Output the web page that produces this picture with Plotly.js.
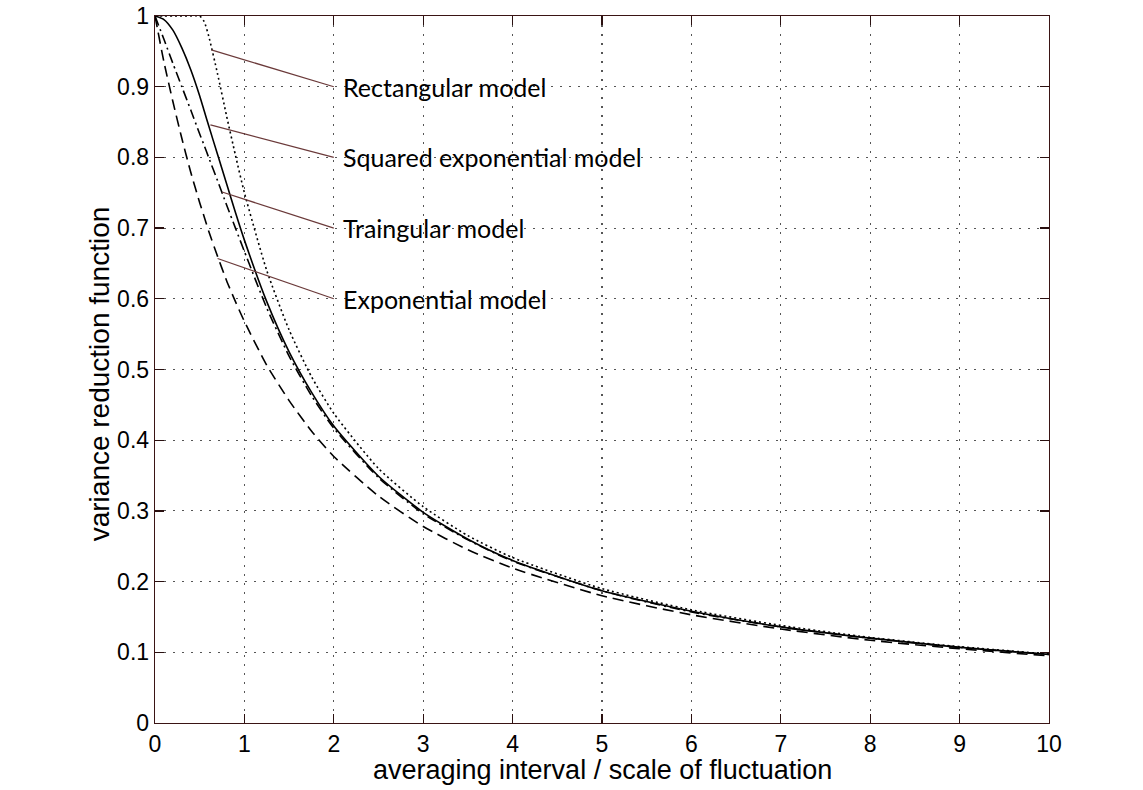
<!DOCTYPE html>
<html>
<head>
<meta charset="utf-8">
<script src="https://cdn.plot.ly/plotly-3.0.1.min.js"></script>
<style>html,body{margin:0;padding:0;background:#fff;}#chart{width:1143px;height:790px;}</style>
</head>
<body>
<div id="chart"></div>
<script>
// averaging interval / scale of fluctuation
const xVals = [0, 0.1, 0.2, 0.3, 0.4, 0.5, 0.55, 0.6, 0.7, 0.8, 0.9, 1, 1.25, 1.5, 1.75, 2, 2.5, 3, 3.5, 4, 5, 6, 7, 8, 9, 10];
// variance reduction function values
const rectangular = [1, 1, 1, 1, 1, 1, 0.992, 0.972, 0.918, 0.859, 0.803, 0.750, 0.640, 0.556, 0.490, 0.438, 0.360, 0.306, 0.265, 0.234, 0.190, 0.160, 0.138, 0.121, 0.108, 0.0975];
const squaredExp = [1, 0.995, 0.980, 0.955, 0.924, 0.887, 0.866, 0.845, 0.804, 0.763, 0.722, 0.683, 0.596, 0.525, 0.468, 0.420, 0.349, 0.298, 0.260, 0.230, 0.187, 0.158, 0.136, 0.120, 0.107, 0.097];
const triangular = [1, 0.967, 0.933, 0.900, 0.867, 0.833, 0.817, 0.800, 0.767, 0.733, 0.700, 0.667, 0.587, 0.519, 0.463, 0.417, 0.347, 0.296, 0.259, 0.229, 0.187, 0.157, 0.136, 0.120, 0.107, 0.097];
const exponential = [1, 0.935, 0.879, 0.827, 0.779, 0.736, 0.716, 0.696, 0.660, 0.626, 0.596, 0.568, 0.506, 0.456, 0.413, 0.377, 0.321, 0.278, 0.245, 0.219, 0.180, 0.153, 0.133, 0.117, 0.105, 0.095];

const labels = ["Rectangular model", "Squared exponential model", "Traingular model", "Exponential model"];
const labelY = [0.9, 0.8, 0.7, 0.6];
const leaderX = [0.63, 0.62, 0.75, 0.70];
const leaderY = [0.952, 0.846, 0.751, 0.657];
const labelAnchorX = 2.0;

const xTickVals = [0,1,2,3,4,5,6,7,8,9,10];
const xTickText = ['0','1','2','3','4','5','6','7','8','9','10'];
const yTickVals = [0,0.1,0.2,0.3,0.4,0.5,0.6,0.7,0.8,0.9,1];
const yTickText = ['0','0.1','0.2','0.3','0.4','0.5','0.6','0.7','0.8','0.9','1'];

const lineW = 1.6;
const traces = [
  {x: xVals, y: rectangular, mode: 'lines', line: {color: '#000', width: lineW, dash: '2px,3px', shape: 'spline', smoothing: 0.6}},
  {x: xVals, y: squaredExp, mode: 'lines', line: {color: '#000', width: lineW, dash: 'solid', shape: 'spline', smoothing: 0.6}},
  {x: xVals, y: triangular, mode: 'lines', line: {color: '#000', width: lineW, dash: '10px,4px,2px,4px', shape: 'spline', smoothing: 0.6}},
  {x: xVals, y: exponential, mode: 'lines', line: {color: '#000', width: lineW, dash: '11px,6px', shape: 'spline', smoothing: 0.6}}
];

const shapes = labels.map((l, i) => ({
  type: 'line', xref: 'x', yref: 'y',
  x0: leaderX[i], y0: leaderY[i], x1: labelAnchorX, y1: labelY[i],
  line: {color: '#6b3a3a', width: 1.2}
}));

const annotations = labels.map((l, i) => ({
  x: labelAnchorX + 0.08, y: labelY[i], xref: 'x', yref: 'y',
  text: l, showarrow: false, xanchor: 'left', yanchor: 'middle',
  font: {family: 'Lato, "Open Sans", sans-serif', size: 25, color: '#000'}
}));
annotations.push({
  xref: 'paper', yref: 'paper', x: -0.062, y: 0.494,
  text: 'variance reduction function', showarrow: false, textangle: -90,
  xanchor: 'center', yanchor: 'middle',
  font: {family: '"Liberation Sans", Arial, sans-serif', size: 28, color: '#000'}
});
annotations.push({
  xref: 'paper', yref: 'paper', x: 0.5, y: -0.066,
  text: 'averaging interval / scale of fluctuation', showarrow: false,
  xanchor: 'center', yanchor: 'middle',
  font: {family: '"Liberation Sans", Arial, sans-serif', size: 27, color: '#000'}
});

const axisCommon = {
  showline: true, linecolor: '#3a1414', linewidth: 1.3, mirror: 'ticks',
  ticks: 'inside', ticklen: 9, tickwidth: 1.3, tickcolor: '#2a1010',
  showgrid: true, gridcolor: '#555', griddash: '1.5px,7.5px', gridwidth: 1.2,
  zeroline: false,
  tickfont: {family: '"Liberation Sans", Arial, sans-serif', size: 23, color: '#000'}
};

const layout = {
  width: 1143, height: 790,
  margin: {l: 155, r: 94, t: 16, b: 67},
  paper_bgcolor: '#fff', plot_bgcolor: '#fff',
  showlegend: false,
  xaxis: Object.assign({}, axisCommon, {
    range: [0, 10], tickvals: xTickVals, ticktext: xTickText, ticklabelstandoff: 0
  }),
  yaxis: Object.assign({}, axisCommon, {
    range: [0, 1], tickvals: yTickVals, ticktext: yTickText
  }),
  shapes: shapes,
  annotations: annotations
};

Plotly.newPlot('chart', traces, layout, {staticPlot: true, displayModeBar: false});
</script>
</body>
</html>
